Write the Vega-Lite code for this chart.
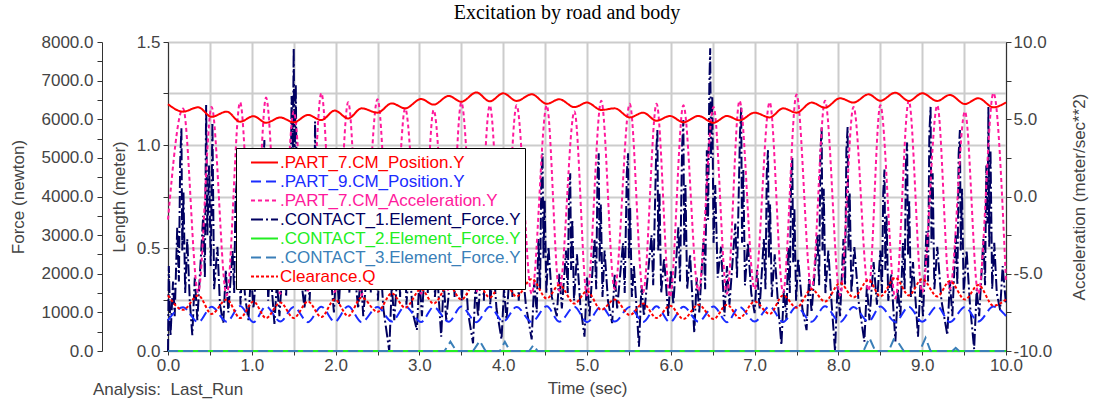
{
"$schema": "https://vega.github.io/schema/vega-lite/v6.json",
"width": 838,
"height": 309,
"autosize": {"type": "none"},
"padding": {"left": 168, "top": 42, "right": 87, "bottom": 56},
"title": {"text": "Excitation by road and body", "font": "Liberation Serif", "fontSize": 20, "fontWeight": "normal", "color": "#000000", "anchor": "middle", "dx": -20, "offset": 10},
"config": {
  "font": "Liberation Sans",
  "view": {"stroke": "#555555", "strokeWidth": 1},
  "axis": {"labelFont": "Liberation Sans", "labelFontSize": 17, "labelColor": "#444444", "titleFont": "Liberation Sans", "titleFontSize": 17, "titleColor": "#444444", "titleFontWeight": "normal", "domainColor": "#333333", "tickColor": "#333333", "tickSize": 5, "grid": false, "labelOverlap": false, "labelFlush": false}
},
"data": {"values": [
{"s":"p7","t":0,"v":1.198},{"s":"p7","t":0.18,"v":1.162},{"s":"p7","t":0.36,"v":1.183},{"s":"p7","t":0.52,"v":1.137},{"s":"p7","t":0.70,"v":1.162},{"s":"p7","t":0.86,"v":1.113},{"s":"p7","t":1.02,"v":1.140},{"s":"p7","t":1.17,"v":1.108},{"s":"p7","t":1.34,"v":1.134},{"s":"p7","t":1.50,"v":1.110},{"s":"p7","t":1.67,"v":1.146},{"s":"p7","t":1.83,"v":1.121},{"s":"p7","t":1.99,"v":1.167},{"s":"p7","t":2.15,"v":1.129},{"s":"p7","t":2.31,"v":1.178},{"s":"p7","t":2.50,"v":1.157},{"s":"p7","t":2.67,"v":1.202},{"s":"p7","t":2.83,"v":1.178},{"s":"p7","t":3.02,"v":1.223},{"s":"p7","t":3.17,"v":1.196},{"s":"p7","t":3.35,"v":1.238},{"s":"p7","t":3.50,"v":1.210},{"s":"p7","t":3.68,"v":1.255},{"s":"p7","t":3.84,"v":1.212},{"s":"p7","t":4.00,"v":1.251},{"s":"p7","t":4.16,"v":1.214},{"s":"p7","t":4.34,"v":1.246},{"s":"p7","t":4.52,"v":1.200},{"s":"p7","t":4.67,"v":1.222},{"s":"p7","t":4.85,"v":1.184},{"s":"p7","t":5.00,"v":1.206},{"s":"p7","t":5.17,"v":1.170},{"s":"p7","t":5.33,"v":1.178},{"s":"p7","t":5.51,"v":1.134},{"s":"p7","t":5.67,"v":1.157},{"s":"p7","t":5.83,"v":1.118},{"s":"p7","t":5.99,"v":1.141},{"s":"p7","t":6.15,"v":1.110},{"s":"p7","t":6.33,"v":1.141},{"s":"p7","t":6.51,"v":1.108},{"s":"p7","t":6.67,"v":1.141},{"s":"p7","t":6.82,"v":1.120},{"s":"p7","t":7.00,"v":1.157},{"s":"p7","t":7.18,"v":1.134},{"s":"p7","t":7.34,"v":1.178},{"s":"p7","t":7.50,"v":1.157},{"s":"p7","t":7.68,"v":1.206},{"s":"p7","t":7.84,"v":1.181},{"s":"p7","t":8.02,"v":1.227},{"s":"p7","t":8.18,"v":1.206},{"s":"p7","t":8.36,"v":1.246},{"s":"p7","t":8.50,"v":1.215},{"s":"p7","t":8.68,"v":1.254},{"s":"p7","t":8.84,"v":1.214},{"s":"p7","t":9.00,"v":1.251},{"s":"p7","t":9.18,"v":1.214},{"s":"p7","t":9.33,"v":1.243},{"s":"p7","t":9.51,"v":1.199},{"s":"p7","t":9.67,"v":1.227},{"s":"p7","t":9.85,"v":1.183},{"s":"p7","t":10.00,"v":1.207},
{"s":"p9","t":0,"v":0.150},{"s":"p9","t":0.18,"v":0.212},{"s":"p9","t":0.36,"v":0.140},{"s":"p9","t":0.52,"v":0.215},{"s":"p9","t":0.70,"v":0.142},{"s":"p9","t":0.86,"v":0.218},{"s":"p9","t":1.02,"v":0.140},{"s":"p9","t":1.17,"v":0.216},{"s":"p9","t":1.34,"v":0.143},{"s":"p9","t":1.50,"v":0.214},{"s":"p9","t":1.67,"v":0.140},{"s":"p9","t":1.83,"v":0.215},{"s":"p9","t":1.99,"v":0.142},{"s":"p9","t":2.15,"v":0.217},{"s":"p9","t":2.31,"v":0.140},{"s":"p9","t":2.50,"v":0.214},{"s":"p9","t":2.67,"v":0.143},{"s":"p9","t":2.83,"v":0.216},{"s":"p9","t":3.02,"v":0.141},{"s":"p9","t":3.17,"v":0.213},{"s":"p9","t":3.35,"v":0.142},{"s":"p9","t":3.50,"v":0.216},{"s":"p9","t":3.68,"v":0.140},{"s":"p9","t":3.84,"v":0.215},{"s":"p9","t":4.00,"v":0.143},{"s":"p9","t":4.16,"v":0.214},{"s":"p9","t":4.34,"v":0.141},{"s":"p9","t":4.52,"v":0.217},{"s":"p9","t":4.67,"v":0.142},{"s":"p9","t":4.85,"v":0.215},{"s":"p9","t":5.00,"v":0.140},{"s":"p9","t":5.17,"v":0.216},{"s":"p9","t":5.33,"v":0.143},{"s":"p9","t":5.51,"v":0.214},{"s":"p9","t":5.67,"v":0.141},{"s":"p9","t":5.83,"v":0.217},{"s":"p9","t":5.99,"v":0.140},{"s":"p9","t":6.15,"v":0.215},{"s":"p9","t":6.33,"v":0.142},{"s":"p9","t":6.51,"v":0.216},{"s":"p9","t":6.67,"v":0.140},{"s":"p9","t":6.82,"v":0.214},{"s":"p9","t":7.00,"v":0.143},{"s":"p9","t":7.18,"v":0.216},{"s":"p9","t":7.34,"v":0.141},{"s":"p9","t":7.50,"v":0.215},{"s":"p9","t":7.68,"v":0.142},{"s":"p9","t":7.84,"v":0.217},{"s":"p9","t":8.02,"v":0.140},{"s":"p9","t":8.18,"v":0.214},{"s":"p9","t":8.36,"v":0.143},{"s":"p9","t":8.50,"v":0.216},{"s":"p9","t":8.68,"v":0.141},{"s":"p9","t":8.84,"v":0.215},{"s":"p9","t":9.00,"v":0.142},{"s":"p9","t":9.18,"v":0.217},{"s":"p9","t":9.33,"v":0.140},{"s":"p9","t":9.51,"v":0.214},{"s":"p9","t":9.67,"v":0.143},{"s":"p9","t":9.85,"v":0.216},{"s":"p9","t":10.00,"v":0.170},
{"s":"clr","t":0,"v":0.27},{"s":"clr","t":0.18,"v":0.20},{"s":"clr","t":0.36,"v":0.27},{"s":"clr","t":0.52,"v":0.18},{"s":"clr","t":0.70,"v":0.25},{"s":"clr","t":0.86,"v":0.16},{"s":"clr","t":1.02,"v":0.24},{"s":"clr","t":1.17,"v":0.16},{"s":"clr","t":1.34,"v":0.235},{"s":"clr","t":1.50,"v":0.16},{"s":"clr","t":1.67,"v":0.24},{"s":"clr","t":1.83,"v":0.165},{"s":"clr","t":1.99,"v":0.25},{"s":"clr","t":2.15,"v":0.17},{"s":"clr","t":2.31,"v":0.26},{"s":"clr","t":2.50,"v":0.19},{"s":"clr","t":2.67,"v":0.28},{"s":"clr","t":2.83,"v":0.21},{"s":"clr","t":3.02,"v":0.30},{"s":"clr","t":3.17,"v":0.23},{"s":"clr","t":3.35,"v":0.32},{"s":"clr","t":3.50,"v":0.25},{"s":"clr","t":3.68,"v":0.34},{"s":"clr","t":3.84,"v":0.26},{"s":"clr","t":4.00,"v":0.345},{"s":"clr","t":4.16,"v":0.265},{"s":"clr","t":4.34,"v":0.35},{"s":"clr","t":4.52,"v":0.255},{"s":"clr","t":4.67,"v":0.32},{"s":"clr","t":4.85,"v":0.23},{"s":"clr","t":5.00,"v":0.29},{"s":"clr","t":5.17,"v":0.20},{"s":"clr","t":5.33,"v":0.25},{"s":"clr","t":5.51,"v":0.175},{"s":"clr","t":5.67,"v":0.23},{"s":"clr","t":5.83,"v":0.16},{"s":"clr","t":5.99,"v":0.22},{"s":"clr","t":6.15,"v":0.155},{"s":"clr","t":6.33,"v":0.225},{"s":"clr","t":6.51,"v":0.155},{"s":"clr","t":6.67,"v":0.225},{"s":"clr","t":6.82,"v":0.16},{"s":"clr","t":7.00,"v":0.24},{"s":"clr","t":7.18,"v":0.18},{"s":"clr","t":7.34,"v":0.27},{"s":"clr","t":7.50,"v":0.21},{"s":"clr","t":7.68,"v":0.30},{"s":"clr","t":7.84,"v":0.24},{"s":"clr","t":8.02,"v":0.33},{"s":"clr","t":8.18,"v":0.26},{"s":"clr","t":8.36,"v":0.345},{"s":"clr","t":8.50,"v":0.265},{"s":"clr","t":8.68,"v":0.355},{"s":"clr","t":8.84,"v":0.27},{"s":"clr","t":9.00,"v":0.35},{"s":"clr","t":9.18,"v":0.265},{"s":"clr","t":9.33,"v":0.34},{"s":"clr","t":9.51,"v":0.25},{"s":"clr","t":9.67,"v":0.32},{"s":"clr","t":9.85,"v":0.22},{"s":"clr","t":10.00,"v":0.25},
{"s":"acc","t":0,"v":-1.5},{"s":"acc","t":0.18,"v":5.7},{"s":"acc","t":0.36,"v":-6.2},{"s":"acc","t":0.52,"v":5.8},{"s":"acc","t":0.70,"v":-6.4},{"s":"acc","t":0.86,"v":6.1},{"s":"acc","t":1.02,"v":-6.0},{"s":"acc","t":1.17,"v":6.4},{"s":"acc","t":1.34,"v":-6.3},{"s":"acc","t":1.50,"v":5.5},{"s":"acc","t":1.67,"v":-6.1},{"s":"acc","t":1.83,"v":6.7},{"s":"acc","t":1.99,"v":-6.2},{"s":"acc","t":2.15,"v":6.1},{"s":"acc","t":2.31,"v":-6.4},{"s":"acc","t":2.50,"v":6.3},{"s":"acc","t":2.67,"v":-6.0},{"s":"acc","t":2.83,"v":5.7},{"s":"acc","t":3.02,"v":-6.3},{"s":"acc","t":3.17,"v":5.6},{"s":"acc","t":3.35,"v":-6.1},{"s":"acc","t":3.50,"v":6.1},{"s":"acc","t":3.68,"v":-6.2},{"s":"acc","t":3.84,"v":5.9},{"s":"acc","t":4.00,"v":-6.0},{"s":"acc","t":4.16,"v":5.9},{"s":"acc","t":4.34,"v":-6.3},{"s":"acc","t":4.52,"v":5.9},{"s":"acc","t":4.67,"v":-6.1},{"s":"acc","t":4.85,"v":5.5},{"s":"acc","t":5.00,"v":-6.4},{"s":"acc","t":5.17,"v":6.2},{"s":"acc","t":5.33,"v":-6.0},{"s":"acc","t":5.51,"v":6.0},{"s":"acc","t":5.67,"v":-6.2},{"s":"acc","t":5.83,"v":6.0},{"s":"acc","t":5.99,"v":-6.5},{"s":"acc","t":6.15,"v":5.9},{"s":"acc","t":6.33,"v":-6.1},{"s":"acc","t":6.51,"v":5.8},{"s":"acc","t":6.67,"v":-6.3},{"s":"acc","t":6.82,"v":6.2},{"s":"acc","t":7.00,"v":-6.0},{"s":"acc","t":7.18,"v":6.1},{"s":"acc","t":7.34,"v":-6.2},{"s":"acc","t":7.50,"v":6.6},{"s":"acc","t":7.68,"v":-6.0},{"s":"acc","t":7.84,"v":6.2},{"s":"acc","t":8.02,"v":-6.4},{"s":"acc","t":8.18,"v":5.8},{"s":"acc","t":8.36,"v":-6.1},{"s":"acc","t":8.50,"v":5.9},{"s":"acc","t":8.68,"v":-6.6},{"s":"acc","t":8.84,"v":6.2},{"s":"acc","t":9.00,"v":-6.2},{"s":"acc","t":9.18,"v":5.9},{"s":"acc","t":9.33,"v":-6.0},{"s":"acc","t":9.51,"v":5.5},{"s":"acc","t":9.67,"v":-6.3},{"s":"acc","t":9.85,"v":6.7},{"s":"acc","t":10.00,"v":-5.5},
{"s":"c2","t":0,"v":0},{"s":"c2","t":10,"v":0},
{"s":"c3","t":0,"v":0},{"s":"c3","t":3.30,"v":0},{"s":"c3","t":3.37,"v":240},{"s":"c3","t":3.44,"v":0},{"s":"c3","t":3.64,"v":0},{"s":"c3","t":3.72,"v":260},{"s":"c3","t":3.79,"v":0},{"s":"c3","t":3.96,"v":0},{"s":"c3","t":4.02,"v":240},{"s":"c3","t":4.08,"v":0},{"s":"c3","t":4.31,"v":0},{"s":"c3","t":4.36,"v":150},{"s":"c3","t":4.41,"v":0},{"s":"c3","t":8.30,"v":0},{"s":"c3","t":8.37,"v":340},{"s":"c3","t":8.44,"v":0},{"s":"c3","t":8.60,"v":0},{"s":"c3","t":8.66,"v":300},{"s":"c3","t":8.72,"v":200},{"s":"c3","t":8.78,"v":0},{"s":"c3","t":8.97,"v":0},{"s":"c3","t":9.04,"v":340},{"s":"c3","t":9.10,"v":0},{"s":"c3","t":9.36,"v":0},{"s":"c3","t":9.40,"v":80},{"s":"c3","t":9.44,"v":0},{"s":"c3","t":10,"v":0},
{"s":"c1","t":0,"v":0},{"s":"c1","t":0.01,"v":2200},{"s":"c1","t":0.03,"v":400},{"s":"c1","t":0.06,"v":1800},{"s":"c1","t":0.08,"v":900},{"s":"c1","t":0.11,"v":3200},{"s":"c1","t":0.13,"v":1800},{"s":"c1","t":0.145,"v":4900},{"s":"c1","t":0.16,"v":5770},{"s":"c1","t":0.17,"v":2600},{"s":"c1","t":0.185,"v":4100},{"s":"c1","t":0.205,"v":1500},{"s":"c1","t":0.23,"v":2900},{"s":"c1","t":0.26,"v":1300},
{"s":"c1","t":0.29,"v":410},{"s":"c1","t":0.32,"v":1900},{"s":"c1","t":0.35,"v":800},{"s":"c1","t":0.42,"v":3500},{"s":"c1","t":0.44,"v":1900},{"s":"c1","t":0.455,"v":6370},{"s":"c1","t":0.47,"v":3000},{"s":"c1","t":0.49,"v":4800},{"s":"c1","t":0.51,"v":2200},{"s":"c1","t":0.53,"v":5910},{"s":"c1","t":0.55,"v":1600},{"s":"c1","t":0.59,"v":2700},{"s":"c1","t":0.62,"v":1200},
{"s":"c1","t":0.66,"v":720},{"s":"c1","t":0.69,"v":2100},{"s":"c1","t":0.72,"v":1000},{"s":"c1","t":0.77,"v":2600},{"s":"c1","t":0.79,"v":1500},{"s":"c1","t":0.805,"v":3900},{"s":"c1","t":0.82,"v":4400},{"s":"c1","t":0.83,"v":2100},{"s":"c1","t":0.845,"v":3300},{"s":"c1","t":0.865,"v":1200},{"s":"c1","t":0.89,"v":2400},{"s":"c1","t":0.92,"v":1400},
{"s":"c1","t":0.96,"v":800},{"s":"c1","t":0.99,"v":2000},{"s":"c1","t":1.02,"v":1100},{"s":"c1","t":1.09,"v":3000},{"s":"c1","t":1.11,"v":1700},{"s":"c1","t":1.135,"v":4600},{"s":"c1","t":1.15,"v":5460},{"s":"c1","t":1.16,"v":2500},{"s":"c1","t":1.175,"v":3900},{"s":"c1","t":1.195,"v":1300},{"s":"c1","t":1.22,"v":2200},
{"s":"c1","t":1.27,"v":700},{"s":"c1","t":1.30,"v":1800},{"s":"c1","t":1.33,"v":900},{"s":"c1","t":1.38,"v":2600},{"s":"c1","t":1.41,"v":1400},{"s":"c1","t":1.44,"v":4700},{"s":"c1","t":1.46,"v":3100},{"s":"c1","t":1.475,"v":6600},{"s":"c1","t":1.49,"v":5200},{"s":"c1","t":1.50,"v":7840},{"s":"c1","t":1.51,"v":4800},{"s":"c1","t":1.525,"v":6900},{"s":"c1","t":1.54,"v":3000},{"s":"c1","t":1.56,"v":4500},{"s":"c1","t":1.58,"v":2000},
{"s":"c1","t":1.63,"v":1100},{"s":"c1","t":1.66,"v":2300},{"s":"c1","t":1.69,"v":1300},{"s":"c1","t":1.72,"v":3100},{"s":"c1","t":1.74,"v":1900},{"s":"c1","t":1.755,"v":5940},{"s":"c1","t":1.77,"v":3300},{"s":"c1","t":1.785,"v":4600},{"s":"c1","t":1.80,"v":1800},{"s":"c1","t":1.83,"v":3000},{"s":"c1","t":1.87,"v":1600},{"s":"c1","t":1.92,"v":2500},
{"s":"c1","t":1.98,"v":1000},{"s":"c1","t":2.01,"v":2200},{"s":"c1","t":2.04,"v":1200},{"s":"c1","t":2.07,"v":2500},{"s":"c1","t":2.09,"v":1600},{"s":"c1","t":2.105,"v":3800},{"s":"c1","t":2.12,"v":4300},{"s":"c1","t":2.13,"v":2000},{"s":"c1","t":2.145,"v":3300},{"s":"c1","t":2.165,"v":1500},{"s":"c1","t":2.20,"v":2600},
{"s":"c1","t":2.27,"v":1100},{"s":"c1","t":2.30,"v":2000},{"s":"c1","t":2.33,"v":900},{"s":"c1","t":2.40,"v":2800},{"s":"c1","t":2.42,"v":1500},{"s":"c1","t":2.445,"v":4100},{"s":"c1","t":2.46,"v":4600},{"s":"c1","t":2.47,"v":2300},{"s":"c1","t":2.485,"v":3600},{"s":"c1","t":2.505,"v":1300},{"s":"c1","t":2.53,"v":2500},{"s":"c1","t":2.57,"v":1100},
{"s":"c1","t":2.64,"v":0},{"s":"c1","t":2.67,"v":1700},{"s":"c1","t":2.70,"v":800},{"s":"c1","t":2.75,"v":2400},{"s":"c1","t":2.77,"v":1400},{"s":"c1","t":2.785,"v":3700},{"s":"c1","t":2.80,"v":4200},{"s":"c1","t":2.81,"v":1900},{"s":"c1","t":2.825,"v":3100},{"s":"c1","t":2.845,"v":1200},{"s":"c1","t":2.88,"v":2300},{"s":"c1","t":2.92,"v":1000},
{"s":"c1","t":2.97,"v":540},{"s":"c1","t":3.00,"v":1900},{"s":"c1","t":3.03,"v":900},{"s":"c1","t":3.08,"v":2700},{"s":"c1","t":3.10,"v":1500},{"s":"c1","t":3.125,"v":4200},{"s":"c1","t":3.14,"v":4800},{"s":"c1","t":3.15,"v":2200},{"s":"c1","t":3.165,"v":3500},{"s":"c1","t":3.185,"v":1400},{"s":"c1","t":3.21,"v":2100},
{"s":"c1","t":3.26,"v":370},{"s":"c1","t":3.29,"v":1800},{"s":"c1","t":3.32,"v":800},{"s":"c1","t":3.40,"v":2600},{"s":"c1","t":3.42,"v":1400},{"s":"c1","t":3.445,"v":4000},{"s":"c1","t":3.46,"v":4500},{"s":"c1","t":3.47,"v":2000},{"s":"c1","t":3.485,"v":3400},{"s":"c1","t":3.505,"v":1300},{"s":"c1","t":3.54,"v":2400},{"s":"c1","t":3.58,"v":1000},
{"s":"c1","t":3.64,"v":200},{"s":"c1","t":3.67,"v":1700},{"s":"c1","t":3.70,"v":900},{"s":"c1","t":3.75,"v":2500},{"s":"c1","t":3.77,"v":1300},{"s":"c1","t":3.785,"v":4100},{"s":"c1","t":3.80,"v":4700},{"s":"c1","t":3.81,"v":2100},{"s":"c1","t":3.825,"v":3500},{"s":"c1","t":3.845,"v":1200},{"s":"c1","t":3.88,"v":2300},{"s":"c1","t":3.92,"v":1100},
{"s":"c1","t":3.98,"v":300},{"s":"c1","t":4.01,"v":1600},{"s":"c1","t":4.04,"v":800},{"s":"c1","t":4.09,"v":2500},{"s":"c1","t":4.11,"v":1400},{"s":"c1","t":4.125,"v":3900},{"s":"c1","t":4.14,"v":4400},{"s":"c1","t":4.15,"v":2000},{"s":"c1","t":4.165,"v":3300},{"s":"c1","t":4.185,"v":1300},{"s":"c1","t":4.22,"v":2400},{"s":"c1","t":4.27,"v":1200},
{"s":"c1","t":4.34,"v":300},{"s":"c1","t":4.37,"v":1800},{"s":"c1","t":4.40,"v":1000},{"s":"c1","t":4.42,"v":2900},{"s":"c1","t":4.44,"v":1600},{"s":"c1","t":4.455,"v":4500},{"s":"c1","t":4.47,"v":5120},{"s":"c1","t":4.48,"v":2400},{"s":"c1","t":4.495,"v":3900},{"s":"c1","t":4.515,"v":1500},{"s":"c1","t":4.54,"v":2700},{"s":"c1","t":4.58,"v":1400},
{"s":"c1","t":4.64,"v":900},{"s":"c1","t":4.67,"v":2000},{"s":"c1","t":4.70,"v":1100},{"s":"c1","t":4.75,"v":2600},{"s":"c1","t":4.77,"v":1500},{"s":"c1","t":4.785,"v":4000},{"s":"c1","t":4.80,"v":4600},{"s":"c1","t":4.81,"v":2100},{"s":"c1","t":4.825,"v":3400},{"s":"c1","t":4.845,"v":1300},{"s":"c1","t":4.88,"v":2500},{"s":"c1","t":4.92,"v":1200},
{"s":"c1","t":4.97,"v":370},{"s":"c1","t":5.00,"v":1900},{"s":"c1","t":5.03,"v":900},{"s":"c1","t":5.09,"v":2900},{"s":"c1","t":5.11,"v":1600},{"s":"c1","t":5.125,"v":4500},{"s":"c1","t":5.14,"v":5120},{"s":"c1","t":5.15,"v":2300},{"s":"c1","t":5.165,"v":3800},{"s":"c1","t":5.185,"v":1400},{"s":"c1","t":5.21,"v":2600},{"s":"c1","t":5.25,"v":1300},
{"s":"c1","t":5.30,"v":720},{"s":"c1","t":5.33,"v":2000},{"s":"c1","t":5.36,"v":1100},{"s":"c1","t":5.43,"v":2800},{"s":"c1","t":5.45,"v":1500},{"s":"c1","t":5.475,"v":4600},{"s":"c1","t":5.49,"v":5120},{"s":"c1","t":5.50,"v":2400},{"s":"c1","t":5.515,"v":3700},{"s":"c1","t":5.535,"v":1400},{"s":"c1","t":5.56,"v":2200},
{"s":"c1","t":5.62,"v":110},{"s":"c1","t":5.65,"v":1700},{"s":"c1","t":5.68,"v":900},{"s":"c1","t":5.77,"v":3000},{"s":"c1","t":5.79,"v":1700},{"s":"c1","t":5.825,"v":5100},{"s":"c1","t":5.84,"v":5720},{"s":"c1","t":5.85,"v":2600},{"s":"c1","t":5.865,"v":4100},{"s":"c1","t":5.885,"v":1500},{"s":"c1","t":5.92,"v":2400},
{"s":"c1","t":5.97,"v":900},{"s":"c1","t":6.00,"v":2100},{"s":"c1","t":6.03,"v":1200},{"s":"c1","t":6.09,"v":3200},{"s":"c1","t":6.11,"v":1800},{"s":"c1","t":6.135,"v":5300},{"s":"c1","t":6.15,"v":5980},{"s":"c1","t":6.16,"v":2700},{"s":"c1","t":6.175,"v":4300},{"s":"c1","t":6.195,"v":1600},{"s":"c1","t":6.23,"v":2500},
{"s":"c1","t":6.28,"v":470},{"s":"c1","t":6.31,"v":1900},{"s":"c1","t":6.34,"v":1000},{"s":"c1","t":6.39,"v":2900},{"s":"c1","t":6.41,"v":1600},{"s":"c1","t":6.43,"v":5200},{"s":"c1","t":6.445,"v":3400},{"s":"c1","t":6.46,"v":6900},{"s":"c1","t":6.47,"v":7840},{"s":"c1","t":6.48,"v":5000},{"s":"c1","t":6.495,"v":6600},{"s":"c1","t":6.51,"v":2800},{"s":"c1","t":6.53,"v":4300},{"s":"c1","t":6.56,"v":1900},{"s":"c1","t":6.60,"v":2700},
{"s":"c1","t":6.64,"v":900},{"s":"c1","t":6.67,"v":2200},{"s":"c1","t":6.70,"v":1200},{"s":"c1","t":6.77,"v":3300},{"s":"c1","t":6.79,"v":1900},{"s":"c1","t":6.825,"v":5600},{"s":"c1","t":6.84,"v":6300},{"s":"c1","t":6.85,"v":2800},{"s":"c1","t":6.865,"v":4700},{"s":"c1","t":6.885,"v":1700},{"s":"c1","t":6.92,"v":2800},{"s":"c1","t":6.96,"v":1500},
{"s":"c1","t":7.00,"v":980},{"s":"c1","t":7.03,"v":2100},{"s":"c1","t":7.06,"v":1100},{"s":"c1","t":7.11,"v":2900},{"s":"c1","t":7.13,"v":1600},{"s":"c1","t":7.145,"v":4600},{"s":"c1","t":7.16,"v":5200},{"s":"c1","t":7.17,"v":2400},{"s":"c1","t":7.185,"v":3800},{"s":"c1","t":7.205,"v":1400},{"s":"c1","t":7.24,"v":2500},{"s":"c1","t":7.28,"v":1200},
{"s":"c1","t":7.32,"v":155},{"s":"c1","t":7.35,"v":1600},{"s":"c1","t":7.38,"v":800},{"s":"c1","t":7.40,"v":2700},{"s":"c1","t":7.42,"v":1500},{"s":"c1","t":7.435,"v":4400},{"s":"c1","t":7.45,"v":5000},{"s":"c1","t":7.46,"v":2300},{"s":"c1","t":7.475,"v":3700},{"s":"c1","t":7.495,"v":1300},{"s":"c1","t":7.52,"v":2400},{"s":"c1","t":7.57,"v":1100},
{"s":"c1","t":7.62,"v":540},{"s":"c1","t":7.65,"v":1900},{"s":"c1","t":7.68,"v":1000},{"s":"c1","t":7.75,"v":3000},{"s":"c1","t":7.77,"v":1700},{"s":"c1","t":7.785,"v":5100},{"s":"c1","t":7.80,"v":5800},{"s":"c1","t":7.81,"v":2600},{"s":"c1","t":7.825,"v":4200},{"s":"c1","t":7.845,"v":1500},{"s":"c1","t":7.88,"v":2600},{"s":"c1","t":7.92,"v":1200},
{"s":"c1","t":7.96,"v":0},{"s":"c1","t":7.99,"v":1700},{"s":"c1","t":8.02,"v":900},{"s":"c1","t":8.06,"v":2900},{"s":"c1","t":8.08,"v":1700},{"s":"c1","t":8.095,"v":5200},{"s":"c1","t":8.11,"v":5800},{"s":"c1","t":8.12,"v":2600},{"s":"c1","t":8.135,"v":4100},{"s":"c1","t":8.155,"v":1500},{"s":"c1","t":8.19,"v":2700},{"s":"c1","t":8.24,"v":1300},
{"s":"c1","t":8.31,"v":240},{"s":"c1","t":8.34,"v":1700},{"s":"c1","t":8.37,"v":800},{"s":"c1","t":8.42,"v":2300},{"s":"c1","t":8.46,"v":1200},{"s":"c1","t":8.50,"v":2600},{"s":"c1","t":8.52,"v":1500},{"s":"c1","t":8.535,"v":4100},{"s":"c1","t":8.55,"v":4700},{"s":"c1","t":8.56,"v":2100},{"s":"c1","t":8.575,"v":3500},{"s":"c1","t":8.595,"v":1300},{"s":"c1","t":8.63,"v":2000},
{"s":"c1","t":8.68,"v":250},{"s":"c1","t":8.71,"v":1600},{"s":"c1","t":8.74,"v":900},{"s":"c1","t":8.77,"v":2800},{"s":"c1","t":8.79,"v":1600},{"s":"c1","t":8.805,"v":4800},{"s":"c1","t":8.82,"v":5400},{"s":"c1","t":8.83,"v":2500},{"s":"c1","t":8.845,"v":3900},{"s":"c1","t":8.865,"v":1400},{"s":"c1","t":8.89,"v":2300},
{"s":"c1","t":8.95,"v":370},{"s":"c1","t":8.98,"v":1800},{"s":"c1","t":9.01,"v":900},{"s":"c1","t":9.05,"v":3100},{"s":"c1","t":9.07,"v":1800},{"s":"c1","t":9.085,"v":5600},{"s":"c1","t":9.10,"v":6320},{"s":"c1","t":9.11,"v":2800},{"s":"c1","t":9.125,"v":4600},{"s":"c1","t":9.145,"v":1600},{"s":"c1","t":9.18,"v":2700},{"s":"c1","t":9.23,"v":1300},
{"s":"c1","t":9.30,"v":410},{"s":"c1","t":9.33,"v":1800},{"s":"c1","t":9.36,"v":900},{"s":"c1","t":9.40,"v":3000},{"s":"c1","t":9.42,"v":1700},{"s":"c1","t":9.435,"v":5100},{"s":"c1","t":9.45,"v":5720},{"s":"c1","t":9.46,"v":2600},{"s":"c1","t":9.475,"v":4200},{"s":"c1","t":9.495,"v":1500},{"s":"c1","t":9.53,"v":2600},{"s":"c1","t":9.57,"v":1200},
{"s":"c1","t":9.62,"v":50},{"s":"c1","t":9.65,"v":1600},{"s":"c1","t":9.68,"v":900},{"s":"c1","t":9.73,"v":2900},{"s":"c1","t":9.75,"v":1700},{"s":"c1","t":9.765,"v":4800},{"s":"c1","t":9.78,"v":3300},{"s":"c1","t":9.79,"v":6320},{"s":"c1","t":9.80,"v":2700},{"s":"c1","t":9.815,"v":5200},{"s":"c1","t":9.835,"v":1600},{"s":"c1","t":9.86,"v":2800},{"s":"c1","t":9.89,"v":1500},
{"s":"c1","t":9.93,"v":1060},{"s":"c1","t":9.96,"v":2200},{"s":"c1","t":10.00,"v":1200}
]},
"encoding": {
  "x": {"field": "t", "type": "quantitative", "scale": {"domain": [0, 10], "nice": false, "zero": false},
    "axis": {"title": "Time (sec)", "values": [0,0.5,1,1.5,2,2.5,3,3.5,4,4.5,5,5.5,6,6.5,7,7.5,8,8.5,9,9.5,10], "labelExpr": "datum.value % 1 == 0 ? format(datum.value, '.1f') : ''", "grid": true, "gridColor": "#cccccc", "gridWidth": 2, "tickSize": 4, "labelPadding": 2, "titlePadding": 7}}
},
"layer": [
  {
    "encoding": {
      "y": {"field": "v", "type": "quantitative", "scale": {"domain": [0, 8000], "nice": false, "zero": false},
        "axis": {"orient": "left", "offset": 66, "title": "Force (newton)", "values": [0,500,1000,1500,2000,2500,3000,3500,4000,4500,5000,5500,6000,6500,7000,7500,8000], "labelExpr": "datum.value % 1000 == 0 ? format(datum.value, '.1f') : ''", "labelPadding": 4, "titlePadding": 14}},
      "color": {"field": "s", "type": "nominal", "scale": {"domain": ["p7","p9","acc","c1","c2","c3","clr"], "range": ["#ff0000","#1a2cff","#ff1a9c","#000060","#22ee22","#3a7fb8","#ff0000"]},
        "legend": {"title": null, "orient": "none", "legendX": 68, "legendY": 106, "direction": "vertical", "fillColor": "white", "strokeColor": "#000000", "padding": 4, "symbolType": "M-1.42,0H1.42", "symbolSize": 361, "symbolStrokeWidth": 2, "symbolOffset": 14, "labelFontSize": 17, "labelFont": "Liberation Sans", "labelOffset": 5, "rowPadding": 0, "labelLimit": 400,
          "labelExpr": "datum.value == 'p7' ? '.PART_7.CM_Position.Y' : datum.value == 'p9' ? '.PART_9.CM_Position.Y' : datum.value == 'acc' ? '.PART_7.CM_Acceleration.Y' : datum.value == 'c1' ? '.CONTACT_1.Element_Force.Y' : datum.value == 'c2' ? '.CONTACT_2.Element_Force.Y' : datum.value == 'c3' ? '.CONTACT_3.Element_Force.Y' : 'Clearance.Q'",
          "encode": {"labels": {"update": {"fill": {"scale": "color", "field": "value"}}}}}},
      "strokeDash": {"field": "s", "type": "nominal", "scale": {"domain": ["p7","p9","acc","c1","c2","c3","clr"], "range": [[1,0],[10,5],[4,3],[12,3,2,3],[1,0],[10,5],[3,2]]},
        "legend": {"title": null, "orient": "none", "legendX": 68, "legendY": 106, "direction": "vertical", "fillColor": "white", "strokeColor": "#000000", "padding": 4, "symbolType": "M-1.42,0H1.42", "symbolSize": 361, "symbolStrokeWidth": 2, "symbolOffset": 14, "labelFontSize": 17, "labelFont": "Liberation Sans", "labelOffset": 5, "rowPadding": 0, "labelLimit": 400,
          "labelExpr": "datum.value == 'p7' ? '.PART_7.CM_Position.Y' : datum.value == 'p9' ? '.PART_9.CM_Position.Y' : datum.value == 'acc' ? '.PART_7.CM_Acceleration.Y' : datum.value == 'c1' ? '.CONTACT_1.Element_Force.Y' : datum.value == 'c2' ? '.CONTACT_2.Element_Force.Y' : datum.value == 'c3' ? '.CONTACT_3.Element_Force.Y' : 'Clearance.Q'",
          "encode": {"labels": {"update": {"fill": {"scale": "color", "field": "value"}}}}}}
    },
    "layer": [
      {"transform": [{"filter": "datum.s == 'c1'"}], "mark": {"type": "line", "strokeWidth": 2}},
      {"transform": [{"filter": "datum.s == 'c2'"}], "mark": {"type": "line", "strokeWidth": 2}},
      {"transform": [{"filter": "datum.s == 'c3'"}], "mark": {"type": "line", "strokeWidth": 2}}
    ]
  },
  {
    "encoding": {
      "y": {"field": "v", "type": "quantitative", "scale": {"domain": [-10, 10], "nice": false, "zero": false},
        "axis": {"orient": "right", "title": "Acceleration (meter/sec**2)", "values": [-10,-7.5,-5,-2.5,0,2.5,5,7.5,10], "labelExpr": "datum.value % 5 == 0 ? (datum.value < 0 ? '-' + format(-datum.value, '.1f') : format(datum.value, '.1f')) : ''", "labelPadding": 2, "titlePadding": 20, "titleAngle": 270, "titleBaseline": "top"}},
      "color": {"field": "s", "type": "nominal"},
      "strokeDash": {"field": "s", "type": "nominal"}
    },
    "layer": [
      {"transform": [{"filter": "datum.s == 'acc'"}], "mark": {"type": "line", "strokeWidth": 2, "interpolate": "monotone"}}
    ]
  },
  {
    "encoding": {
      "y": {"field": "v", "type": "quantitative", "scale": {"domain": [0, 1.5], "nice": false, "zero": false},
        "axis": {"orient": "left", "title": "Length (meter)", "values": [0,0.25,0.5,0.75,1,1.25,1.5], "labelExpr": "(datum.value * 2) % 1 == 0 ? format(datum.value, '.1f') : ''", "grid": true, "gridColor": "#cccccc", "gridWidth": 2, "labelPadding": 3, "titlePadding": 8}},
      "color": {"field": "s", "type": "nominal"},
      "strokeDash": {"field": "s", "type": "nominal"}
    },
    "layer": [
      {"transform": [{"filter": "datum.s == 'p9'"}], "mark": {"type": "line", "strokeWidth": 2, "interpolate": "monotone"}},
      {"transform": [{"filter": "datum.s == 'clr'"}], "mark": {"type": "line", "strokeWidth": 2, "interpolate": "monotone"}},
      {"transform": [{"filter": "datum.s == 'p7'"}], "mark": {"type": "line", "strokeWidth": 2, "interpolate": "monotone"}},
      {
        "transform": [{"filter": "datum.s == 'c2' && datum.t == 0"}],
        "mark": {"type": "text", "align": "left", "baseline": "middle", "fontSize": 17, "font": "Liberation Sans"},
        "encoding": {
          "x": {"datum": -0.895, "type": "quantitative"},
          "y": {"datum": -0.19, "type": "quantitative"},
          "text": {"value": "Analysis:\u00a0 Last_Run"},
          "color": {"value": "#444444"}
        }
      }
    ]
  }
],
"resolve": {"scale": {"y": "independent"}}
}
